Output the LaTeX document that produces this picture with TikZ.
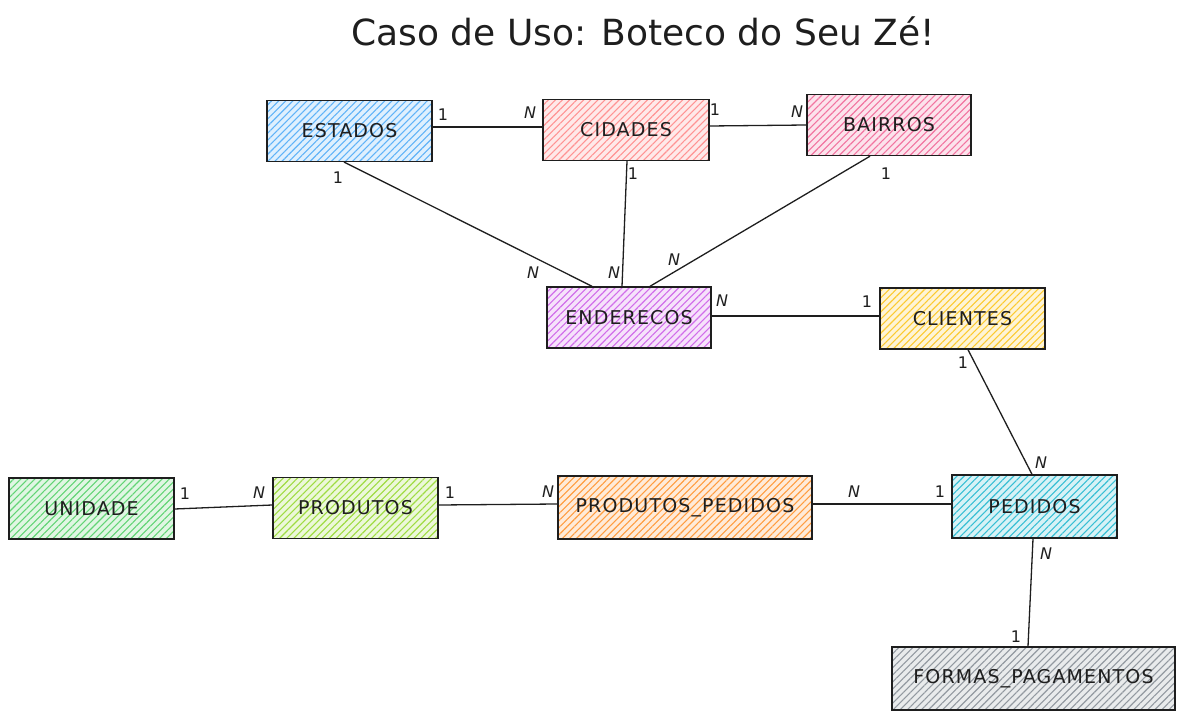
\documentclass[tikz,border=0pt]{standalone}
\usepackage{fontspec}
\setmainfont{DejaVu Sans}
\newfontfamily\boxfont[LetterSpace=6]{DejaVu Sans}
\usetikzlibrary{patterns.meta}
\definecolor{ink}{HTML}{1E1E1E}
\definecolor{cBlue}{HTML}{4DABF7}
\definecolor{cRed}{HTML}{FF8787}
\definecolor{cPink}{HTML}{F06595}
\definecolor{cPurple}{HTML}{CC5DE8}
\definecolor{cYellow}{HTML}{FCC419}
\definecolor{cGreen}{HTML}{51CF66}
\definecolor{cLime}{HTML}{94D82D}
\definecolor{cOrange}{HTML}{FF922B}
\definecolor{cCyan}{HTML}{22B8CF}
\definecolor{cGray}{HTML}{868E96}
\tikzset{
  entity/.style={draw=ink, line width=1.4pt, minimum height=61pt, inner sep=0pt,
    font=\boxfont\fontsize{19}{22}\selectfont, text=ink,
    preaction={fill=#1!18},
    pattern={Lines[angle=45,distance=5pt,line width=1.1pt]}, pattern color=#1!90},
  rel/.style={draw=ink, line width=1.3pt},
  card/.style={font=\fontsize{16}{18}\selectfont, text=ink, inner sep=0pt},
  ncard/.style={font=\itshape\fontsize{16}{18}\selectfont, text=ink, inner sep=0pt},
}
\begin{document}
\begin{tikzpicture}[x=1pt,y=-1pt]
\useasboundingbox (0,0) rectangle (1185,719);
\node[font=\fontsize{36}{40}\selectfont, text=ink] (title) at (643,31) {Caso de Uso: Boteco do Seu Zé!};

\node[entity=cBlue, minimum width=165pt] (est) at (349.5,131) {ESTADOS};
\node[entity=cRed, minimum width=166pt] (cid) at (626,130) {CIDADES};
\node[entity=cPink, minimum width=164pt] (bai) at (889,125) {BAIRROS};
\node[entity=cPurple, minimum width=164pt] (end) at (629,317.5) {ENDERECOS};
\node[entity=cYellow, minimum width=165pt] (cli) at (962.5,318.5) {CLIENTES};
\node[entity=cGreen, minimum width=165pt] (uni) at (91.5,508.5) {UNIDADE};
\node[entity=cLime, minimum width=165pt] (pro) at (355.5,508) {PRODUTOS};
\node[entity=cOrange, minimum width=254pt, minimum height=63pt] (pp) at (685,507.5) {PRODUTOS\_PEDIDOS};
\node[entity=cCyan, minimum width=165pt, minimum height=63pt] (ped) at (1034.5,506.5) {PEDIDOS};
\node[entity=cGray, minimum width=283pt, minimum height=63pt] (fp) at (1033.5,678.5) {FORMAS\_PAGAMENTOS};

% connectors
\draw[rel] (est.east |- 0,127) -- (cid.west |- 0,127);
\draw[rel] (cid.east |- 0,126) -- (bai.west |- 0,125);
\draw[rel] (est.south -| 344,0) -- (end.north -| 592,0);
\draw[rel] (cid.south -| 627,0) -- (end.north -| 622,0);
\draw[rel] (bai.south -| 870,0) -- (end.north -| 650,0);
\draw[rel] (end.east |- 0,316) -- (cli.west |- 0,316);
\draw[rel] (cli.south -| 968,0) -- (ped.north -| 1032,0);
\draw[rel] (uni.east |- 0,509) -- (pro.west |- 0,505);
\draw[rel] (pro.east |- 0,505) -- (pp.west |- 0,504);
\draw[rel] (pp.east |- 0,504) -- (ped.west |- 0,504);
\draw[rel] (ped.south -| 1033,0) -- (fp.north -| 1028,0);

% cardinalities
\node[card] (c1) at (443,115) {1};
\node[ncard] (c2) at (530,113) {N};
\node[card] (c3) at (715,110) {1};
\node[ncard] (c4) at (797,112) {N};
\node[card] (c5) at (338,178) {1};
\node[ncard] (c6) at (533,273) {N};
\node[card] (c7) at (633,174) {1};
\node[ncard] (c8) at (614,273) {N};
\node[card] (c9) at (886,174) {1};
\node[ncard] (c10) at (674,260) {N};
\node[ncard] (c11) at (722,301) {N};
\node[card] (c12) at (867,302) {1};
\node[card] (c13) at (963,363) {1};
\node[ncard] (c14) at (1041,463) {N};
\node[card] (c15) at (185,494) {1};
\node[ncard] (c16) at (259,493) {N};
\node[card] (c17) at (450,493) {1};
\node[ncard] (c18) at (548,492) {N};
\node[ncard] (c19) at (854,492) {N};
\node[card] (c20) at (940,492) {1};
\node[ncard] (c21) at (1046,554) {N};
\node[card] (c22) at (1016,637) {1};
\end{tikzpicture}
\end{document}
